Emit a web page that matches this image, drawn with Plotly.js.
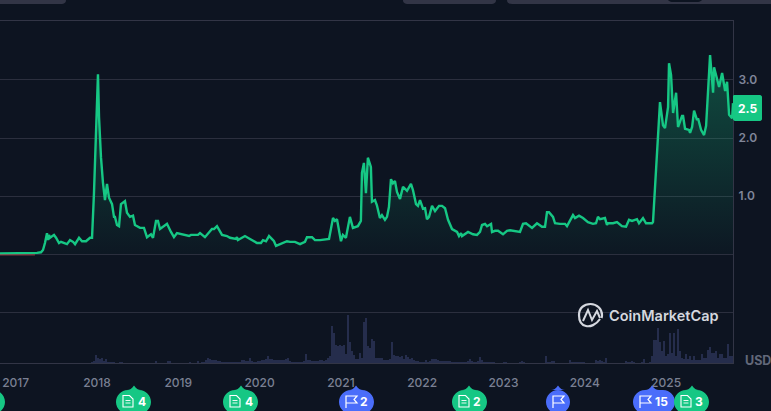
<!DOCTYPE html>
<html>
<head>
<meta charset="utf-8">
<script src="https://cdn.plot.ly/plotly-3.0.1.min.js"></script>
<style>html,body{margin:0;padding:0;background:#0d1421;overflow:hidden}#c{width:771px;height:411px}</style>
</head>
<body>
<div id="c"></div>
<script>
var priceYears = [2016.807,2017.053,2017.237,2017.262,2017.311,2017.336,2017.360,2017.385,2017.397,2017.410,2017.422,2017.447,2017.471,2017.496,2017.533,2017.557,2017.594,2017.631,2017.668,2017.705,2017.730,2017.779,2017.816,2017.865,2017.914,2017.939,2017.963,
2018.000,2018.012,2018.025,2018.049,2018.074,2018.098,2018.123,2018.148,2018.185,2018.209,2018.221,2018.246,2018.271,2018.295,2018.344,2018.369,2018.406,2018.443,2018.467,2018.529,2018.578,2018.615,2018.664,2018.689,2018.726,2018.750,2018.775,2018.812,2018.861,2018.910,2018.947,2018.984,
2019.058,2019.132,2019.156,2019.242,2019.267,2019.328,2019.414,2019.439,2019.476,2019.538,2019.599,2019.636,2019.710,2019.722,2019.734,2019.820,2019.882,2019.968,
2020.017,2020.042,2020.079,2020.116,2020.165,2020.177,2020.202,2020.276,2020.337,2020.374,2020.435,2020.497,2020.558,2020.583,2020.645,2020.681,2020.743,2020.854,2020.903,2020.927,2020.952,
2021.001,2021.025,2021.062,2021.111,2021.148,2021.209,2021.246,2021.259,2021.283,2021.308,2021.332,2021.369,2021.382,2021.419,2021.443,2021.480,2021.505,2021.542,2021.567,2021.591,2021.616,2021.640,2021.665,2021.690,2021.727,2021.764,2021.813,2021.862,2021.887,2021.924,2021.948,2021.973,
2022.010,2022.035,2022.059,2022.084,2022.121,2022.158,2022.207,2022.244,2022.281,2022.318,2022.367,2022.429,2022.453,2022.478,2022.490,2022.564,2022.625,2022.674,2022.711,2022.736,2022.773,2022.798,2022.847,2022.859,2022.896,2022.933,2022.994,
2023.043,2023.080,2023.166,2023.203,2023.240,2023.277,2023.351,2023.412,2023.474,2023.511,2023.535,2023.560,2023.609,2023.634,2023.695,2023.757,2023.781,2023.855,2023.880,2023.929,2023.978,
2024.039,2024.101,2024.138,2024.162,2024.187,2024.248,2024.273,2024.285,2024.347,2024.396,2024.457,2024.507,2024.544,2024.581,2024.642,2024.667,2024.716,2024.753,2024.827,2024.839,2024.864,2024.901,2024.925,2024.962,2024.987,
2025.024,2025.036,2025.061,2025.086,2025.123,2025.147,2025.196,2025.209,2025.233,2025.282,2025.295,2025.320,2025.344,2025.381,2025.393,2025.430,2025.467,2025.492,2025.541,2025.578,2025.590,2025.627,2025.652,2025.689,2025.726,2025.750,2025.775,2025.812,2025.823];
var priceValues = [.01,.01,.01,.02,.03,.07,.19,.36,.24,.33,.28,.31,.33,.28,.19,.21,.19,.17,.24,.21,.17,.28,.22,.22,.28,.28,1.05,
2.78,3.10,2.36,1.67,1.22,.93,1.21,.97,.86,.64,.64,.50,.48,.86,.91,.71,.64,.66,.50,.45,.45,.29,.34,.28,.57,.57,.43,.47,.52,.38,.29,.36,
.33,.31,.33,.33,.36,.29,.43,.43,.48,.33,.31,.28,.26,.29,.24,.31,.26,.19,
.19,.24,.22,.31,.24,.22,.14,.19,.22,.21,.21,.17,.21,.29,.29,.24,.24,.26,.62,.57,.60,
.22,.33,.28,.64,.45,.48,.57,1.40,1.57,1.05,1.66,1.50,.90,.93,.84,.62,.67,.59,.64,.81,1.29,1.22,1.26,1.07,.95,1.16,1.09,1.21,1.10,.86,.83,.93,
.78,.79,.60,.64,.83,.74,.83,.83,.79,.59,.43,.38,.31,.36,.31,.38,.34,.33,.38,.50,.52,.48,.52,.38,.40,.40,.34,
.40,.41,.38,.38,.52,.53,.45,.53,.47,.47,.72,.72,.64,.53,.52,.52,.48,.67,.62,.66,.62,
.55,.52,.53,.64,.60,.62,.50,.53,.53,.55,.48,.47,.59,.57,.60,.53,.62,.53,.53,.55,1.10,1.97,2.62,2.22,2.17,
2.53,3.29,3.09,2.43,2.78,2.19,2.38,2.38,2.16,2.14,2.09,2.19,2.47,2.31,2.34,2.14,2.05,2.21,3.43,2.78,3.22,3.00,2.88,3.12,2.81,2.97,2.40,2.34,2.60];
var baselineYears = [2016.807,2017.237];
var baselineValues = [-0.015,-0.015];
var volumeStart = 2017.938, volumeStep = 0.0246;
var volumeValues = [1,2,8,5,4,5,2,4,1,1,1,1,.5,.5,1,1,.3,.3,.3,.3,.3,.3,.3,.3,.3,.3,.3,.3,.3,.3,.3,.3,2,.5,.3,.3,.3,.3,2,2,.5,.3,.3,.3,.3,.3,.3,.3,.3,1,.5,.5,.5,2,.5,1.5,1.5,3,5,4,3,3,3,2,2,1.5,1.5,1.5,1.5,1.5,1.5,1.5,1.5,1.5,1.5,3,3,2,2,5,2,1,1,2,2,3,3,4,7,4,4,3,3,3,3,3,3,4,5,2,1.2,1.2,1.2,1.2,1.2,1.2,2,9,3,3,2,2,2,2,3,3,2,3,5,7,37,30,18,17,18,17,18,9,48,21,12,8,4,4,10,5,41,45,17,15,24,22,5,5,5,5,3,3,3,4,21,8,7,7,6,7,4,8,6,4,5,3,2,2,1,1,1,3,1,2,4,4,4,3,2,2,2,2,2,2,1.5,1.5,1,1.5,1,1.5,1.5,1.5,2,4,2,1,1,2,6,3,1,1,1,1,1,.7,.5,.5,.5,.5,1,1,.5,.5,.5,.5,.5,.5,1,2,1,.5,.5,.5,.5,.5,.5,.5,.5,.5,.5,7,1,1,2,2,.5,.5,.5,.5,.5,.5,.5,3,1,1,1,1,1,1,1,.5,.5,.5,.5,.5,3,2,3,2,1,5,.5,.5,.5,.5,.5,.5,.5,.5,.5,2,1,1,2,1,.5,.5,.5,1,4,.5,.5,1,7,23,23,35,21,12,22,7,9,30,10,30,7,34,12,5,4,9,4,7,3,7,3,3,3,9,5,5,13,16,10,10,12,5,9,9,5,5,19,7,7];
var volumeYears = volumeValues.map(function(_, i){ return volumeStart + i * volumeStep; });
var yearTicks = [2017,2018,2019,2020,2021,2022,2023,2024,2025];
var yearLabels = ['2017','2018','2019','2020','2021','2022','2023','2024','2025'];
var priceTicks = [-1,0,1,2,3];
var priceLabels = ['','','1.0','2.0','3.0'];
var lastPriceLabel = '2.5';

var GREEN='#16c784', BLUE='#4a6dfa', FONT='Inter, "Noto Sans", sans-serif';
var L=733, T=21, B=363;
function px(x){return x/L;}
function py(y){return (B-y)/(B-T);}
function p(str){ // pixel path -> paper path
  return str.replace(/(-?[\d.]+)[ ,]+(-?[\d.]+)/g,function(_,a,b){return px(+a).toFixed(5)+','+py(+b).toFixed(5);});
}
function fillShape(d,c){return {type:'path',xref:'paper',yref:'paper',path:p(d),fillcolor:c,line:{width:0},layer:'above'};}
function lineShape(d,c,w,fill){return {type:'path',xref:'paper',yref:'paper',path:p(d),fillcolor:fill||'rgba(0,0,0,0)',line:{color:c,width:w},layer:'above'};}
function pill(x0,x1,tip,c){
  return fillShape('M '+(x0+12)+' 390 L '+(tip-7)+' 390 Q '+(tip-3)+' 390 '+tip+' 385.5 Q '+(tip+3)+' 390 '+(tip+7)+' 390 L '+(x1-12)+' 390 C '+(x1-5)+' 390 '+x1+' 396 '+x1+' 402 C '+x1+' 408 '+(x1-5)+' 414 '+(x1-12)+' 414 L '+(x0+12)+' 414 C '+(x0+5)+' 414 '+x0+' 408 '+x0+' 402 C '+x0+' 396 '+(x0+5)+' 390 '+(x0+12)+' 390 Z',c);
}
function doc(cx){
  var l=cx-5,r=cx+5;
  return [lineShape('M '+l+' 395.5 L '+(cx+1.5)+' 395.5 L '+r+' 399 L '+r+' 407 L '+l+' 407 Z','#fff',1.1),
          lineShape('M '+(l+2.5)+' 400.5 L '+(r-2.5)+' 400.5 M '+(l+2.5)+' 403 L '+(r-2.5)+' 403','#fff',0.9)];
}
function flag(cx){
  var l=cx-5;
  return [lineShape('M '+l+' 408 L '+l+' 396 L '+(cx+6)+' 396 L '+(cx+3)+' 399.5 L '+(cx+6)+' 403 L '+l+' 403','#fff',1.2)];
}
function label(x,y,t,size,color,weight,anchor){
  return {xref:'paper',yref:'paper',x:px(x),y:py(y),text:t,showarrow:false,xanchor:anchor||'center',yanchor:'middle',
    font:{family:FONT,size:size,color:color,weight:weight||400}};
}

var shapes=[
  fillShape('M 0 -5 L 66 -5 L 66 0 C 66 3 64 4 61 4 L 0 4 Z','#323546'),
  fillShape('M 403 -5 L 496 -5 L 496 0 C 496 3 494 4 491 4 L 408 4 C 405 4 403 3 403 0 Z','#323546'),
  fillShape('M 507 -5 L 771 -5 L 771 4 L 512 4 C 509 4 507 3 507 0 Z','#323546'),
  fillShape('M 668 -5 L 702 -5 L 702 0 C 701 1 700 2 698 2 L 672 2 C 670 2 669 1 668 0 Z','#0d1421'),
  fillShape('M 733 96 C 733 95 734 95 735 95 L 760 95 C 761 95 762 96 762 97 L 762 119 C 762 120 761 121 760 121 L 735 121 C 734 121 733 120 733 119 Z',GREEN),
  pill(-30,5,-12,GREEN),
  pill(116,151,134,GREEN),
  pill(223,258,241,GREEN),
  pill(339,374,356,BLUE),
  pill(452,487,469,GREEN),
  pill(546,570,558,BLUE),
  pill(633,675,652,BLUE),
  pill(674,709,692,GREEN),
  // CoinMarketCap logo
  lineShape('M 600 319 C 596 325 590 327 586 326 C 581 325 579 320 579 315 C 579 308 584 304 590.5 304 C 597 304 602 309 602 315 C 602 316 602 317 601.5 318','#d5d8df',2.2),
  lineShape('M 583 321 L 588 310 L 592 320 L 597 311 L 600 318','#d5d8df',2)
];
shapes=shapes.concat(doc(128),doc(235),flag(351),doc(464),flag(558),flag(645),doc(686));

var annotations=[
  label(747.5,108,lastPriceLabel,12,'#ffffff',700),
  label(773,360,'USD',12.5,'#62687a',700,'right'),
  label(663.5,315.5,'CoinMarketCap',14.5,'#d5d8df',600),
  label(142,401.5,'4',12,'#fff',700),
  label(249,401.5,'4',12,'#fff',700),
  label(364,401.5,'2',12,'#fff',700),
  label(477,401.5,'2',12,'#fff',700),
  label(661,401.5,'15',12,'#fff',700),
  label(699,401.5,'3',12,'#fff',700)
];

var traces=[
  {type:'bar',x:volumeYears,y:volumeValues,yaxis:'y2',width:volumeStep*0.8,marker:{color:'#252d4c',line:{width:0}},hoverinfo:'skip'},
  {type:'scatter',mode:'lines',x:priceYears,y:priceValues,fill:'tozeroy',
   fillgradient:{type:'vertical',colorscale:[[0,'rgba(22,199,132,0.02)'],[1,'rgba(22,199,132,0.32)']]},
   line:{color:GREEN,width:2.4,shape:'linear'},hoverinfo:'skip'},
  {type:'scatter',mode:'lines',x:baselineYears,y:baselineValues,line:{color:'#a8404a',width:1},hoverinfo:'skip'}
];
var layout={
  width:771,height:411,showlegend:false,
  paper_bgcolor:'#0d1421',plot_bgcolor:'#0d1421',
  margin:{l:0,r:38,t:21,b:48,pad:0},
  xaxis:{range:[2016.807,2025.823],tickmode:'array',tickvals:yearTicks,ticktext:yearLabels,showgrid:false,zeroline:false,
    showline:true,mirror:true,linecolor:'#323546',linewidth:1,ticks:'',ticklabelstandoff:9,
    tickfont:{family:FONT,size:12,color:'#7a8093',weight:500}},
  yaxis:{range:[-1.879,4.017],side:'right',tickmode:'array',tickvals:priceTicks,ticktext:priceLabels,showgrid:true,gridcolor:'#2b2f3e',gridwidth:1,zeroline:false,
    showline:true,linecolor:'#323546',linewidth:1,ticks:'',ticklabelstandoff:2,
    tickfont:{family:FONT,size:12,color:'#80869a',weight:600}},
  yaxis2:{range:[0,342],overlaying:'y',side:'right',visible:false,fixedrange:true},
  shapes:shapes,annotations:annotations,bargap:0
};
Plotly.newPlot('c',traces,layout,{staticPlot:true,displayModeBar:false});
</script>
</body>
</html>
